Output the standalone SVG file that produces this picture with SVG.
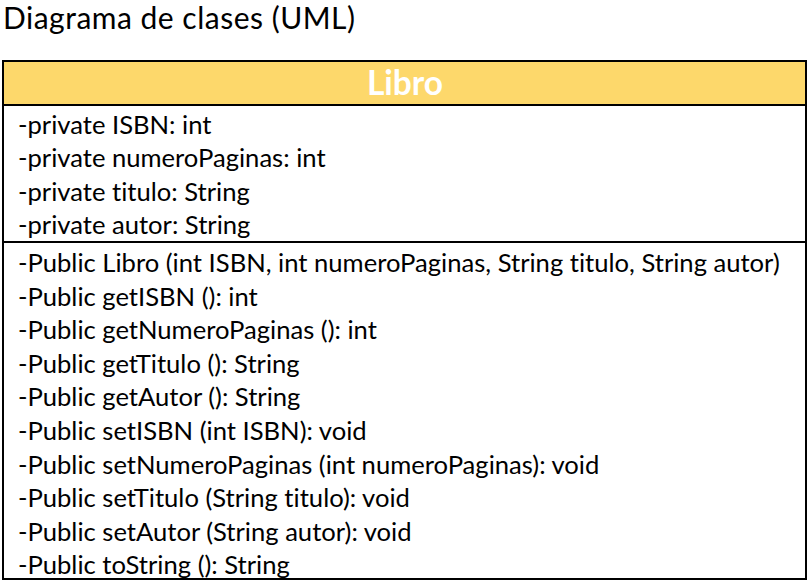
<svg xmlns="http://www.w3.org/2000/svg" width="810" height="584" viewBox="0 0 810 584">
  <style>
    text { font-variant-ligatures: none; }
    .t { font-family: Lato, "Open Sans", sans-serif; font-size: 25.6px; fill: #000; }
    .title { font-family: Lato, "Open Sans", sans-serif; font-size: 30px; fill: #000; }
    .head { font-family: Lato, "Open Sans", sans-serif; font-size: 33.5px; font-weight: bold; fill: #fff; }
  </style>
  <rect width="810" height="584" fill="#fff"/>
  <text class="title" x="3" y="29" textLength="352" lengthAdjust="spacing">Diagrama de clases (UML)</text>

  <g id="libro">
    <rect x="3" y="61" width="803" height="44" fill="#fdd86b"/>
    <text class="head" x="405" y="95" text-anchor="middle">Libro</text>
    <rect x="3" y="61" width="803" height="518" fill="none" stroke="#000" stroke-width="2"/>
    <line x1="3" y1="105" x2="806" y2="105" stroke="#000" stroke-width="2"/>
    <line x1="3" y1="242" x2="806" y2="242" stroke="#000" stroke-width="2"/>

    <g id="atributos">
      <text class="t" x="18" y="134">-private ISBN: int</text>
      <text class="t" x="18" y="167">-private numeroPaginas: int</text>
      <text class="t" x="18" y="201">-private titulo: String</text>
      <text class="t" x="18" y="234">-private autor: String</text>
    </g>
    <g id="metodos">
      <text class="t" x="18" y="272">-Public Libro (int ISBN, int numeroPaginas, String titulo, String autor)</text>
      <text class="t" x="18" y="306">-Public getISBN (): int</text>
      <text class="t" x="18" y="339">-Public getNumeroPaginas (): int</text>
      <text class="t" x="18" y="373">-Public getTitulo (): String</text>
      <text class="t" x="18" y="406">-Public getAutor (): String</text>
      <text class="t" x="18" y="440">-Public setISBN (int ISBN): void</text>
      <text class="t" x="18" y="474">-Public setNumeroPaginas (int numeroPaginas): void</text>
      <text class="t" x="18" y="507">-Public setTitulo (String titulo): void</text>
      <text class="t" x="18" y="541">-Public setAutor (String autor): void</text>
      <text class="t" x="18" y="574">-Public toString (): String</text>
    </g>
  </g>
</svg>
